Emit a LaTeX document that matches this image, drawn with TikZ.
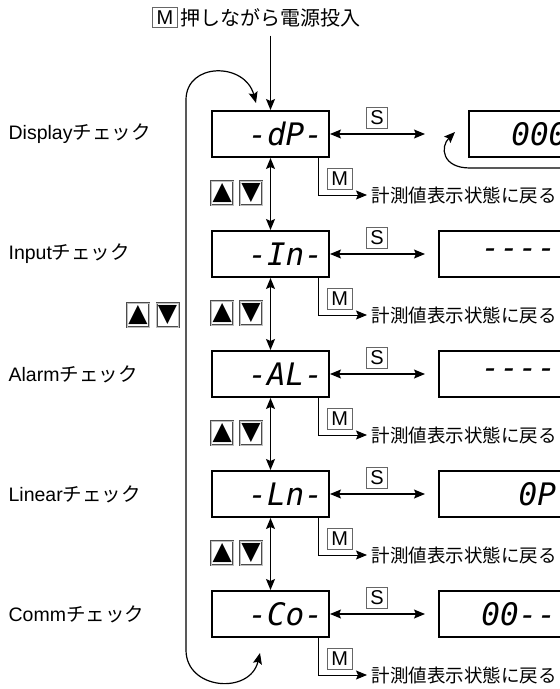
\documentclass[tikz,border=0pt]{standalone}
\usepackage{fontspec}
\setmainfont{Liberation Sans}
\newfontfamily\jp{Noto Sans CJK JP}
\newfontfamily\symf{DejaVu Sans}
\newfontfamily\seg{DejaVu Sans Mono}[Ligatures=TeXOff]
\usetikzlibrary{arrows.meta, positioning}
\tikzset{
  disp_n/.style = {draw, line width=2pt, minimum height=46pt, inner xsep=6pt,
    inner ysep=0pt, align=right, font=\seg\itshape\fontsize{31}{34}\selectfont},
  chk_n/.style = {disp_n, text width=105pt},
  res_n/.style = {disp_n, text width=111pt},
  key_n/.style = {draw=black!60, line width=0.8pt, inner xsep=4pt,
    inner ysep=3.5pt, font=\fontsize{20}{20}\selectfont},
  btn_n/.style = {draw=black!70, double=black!25, double distance=0.6pt,
    line width=0.6pt, minimum width=22pt, minimum height=24pt, inner sep=0pt,
    font=\symf\fontsize{25}{25}\selectfont},
  lbl_n/.style = {anchor=west, inner sep=0pt, font=\fontsize{19.5}{22}\selectfont},
  ret_n/.style = {anchor=west, inner xsep=4pt, font=\jp\fontsize{18.5}{22}\selectfont}}

\begin{document}
\begin{tikzpicture}[x=1pt, y=-1pt, line width=1.2pt,
  >={Stealth[length=11pt, width=9pt, inset=2pt]}]
\useasboundingbox (0,0) rectangle (560,689);
\clip (0,0) rectangle (560,689);

% title
\node[key_n] (k0) at (165,17.5) {M};
\node[anchor=west, inner xsep=2pt, font=\jp\fontsize{20}{22}\selectfont] (t0) at (k0.east) {押しながら電源投入};

% check modes
\node[chk_n] (chk1) at (270.5,134) {-dP-};
\node[chk_n, below=72pt of chk1] (chk2) {-In-};
\node[chk_n, below=72pt of chk2] (chk3) {-AL-};
\node[chk_n, below=72pt of chk3] (chk4) {-Ln-};
\node[chk_n, below=72pt of chk4] (chk5) {-Co-};

% results
\node[res_n, right=138pt of chk1] (res1) {0000};
\node[res_n, right=108pt of chk2] (res2) {----};
\node[res_n, right=108pt of chk3] (res3) {----};
\node[res_n, right=108pt of chk4] (res4) {0P};
\node[res_n, right=108pt of chk5] (res5) {00--};

% names
\coordinate (lx) at (8,0);
\node[lbl_n] (l1) at (lx |- chk1) {Display{\jp チェック}};
\node[lbl_n] (l2) at (lx |- chk2) {Input{\jp チェック}};
\node[lbl_n] (l3) at (lx |- chk3) {Alarm{\jp チェック}};
\node[lbl_n] (l4) at (lx |- chk4) {Linear{\jp チェック}};
\node[lbl_n] (l5) at (lx |- chk5) {Comm{\jp チェック}};

% up/down keys
\node[btn_n] (u0) at (138,315) {▲};
\node[btn_n, right=7pt of u0] (d0) {▼};
\node[btn_n, below right=23pt and 0pt of chk1.south west] (u1) {▲};
\node[btn_n, right=6pt of u1] (d1) {▼};
\node[btn_n, below right=23pt and 0pt of chk2.south west] (u2) {▲};
\node[btn_n, right=6pt of u2] (d2) {▼};
\node[btn_n, below right=23pt and 0pt of chk3.south west] (u3) {▲};
\node[btn_n, right=6pt of u3] (d3) {▼};
\node[btn_n, below right=23pt and 0pt of chk4.south west] (u4) {▲};
\node[btn_n, right=6pt of u4] (d4) {▼};

\draw[->, shorten <=5pt] (t0.south -| chk1.north) -- (chk1.north);
\draw[<->] (chk1) -- (chk2);
\draw[<->] (chk2) -- (chk3);
\draw[<->] (chk3) -- (chk4);
\draw[<->] (chk4) -- (chk5);

% S keys
\draw[<->, shorten >=43pt] (chk1) -- (res1);
\draw[<->, shorten >=13pt] (chk2) -- (res2);
\draw[<->, shorten >=13pt] (chk3) -- (res3);
\draw[<->, shorten >=13pt] (chk4) -- (res4);
\draw[<->, shorten >=13pt] (chk5) -- (res5);
\node[key_n] (s1) at ([xshift=47pt, yshift=16pt]chk1.east) {S};
\node[key_n] (s2) at ([xshift=47pt, yshift=16pt]chk2.east) {S};
\node[key_n] (s3) at ([xshift=47pt, yshift=16pt]chk3.east) {S};
\node[key_n] (s4) at ([xshift=47pt, yshift=16pt]chk4.east) {S};
\node[key_n] (s5) at ([xshift=47pt, yshift=16pt]chk5.east) {S};

% M keys
\node[ret_n] (r1) at ([xshift=37pt, yshift=-37pt]chk1.south east) {計測値表示状態に戻る};
\node[ret_n] (r2) at ([xshift=37pt, yshift=-37pt]chk2.south east) {計測値表示状態に戻る};
\node[ret_n] (r3) at ([xshift=37pt, yshift=-37pt]chk3.south east) {計測値表示状態に戻る};
\node[ret_n] (r4) at ([xshift=37pt, yshift=-37pt]chk4.south east) {計測値表示状態に戻る};
\node[ret_n] (r5) at ([xshift=37pt, yshift=-37pt]chk5.south east) {計測値表示状態に戻る};
\draw[->, line width=0.9pt] ([xshift=-12pt]chk1.south east) |- (r1);
\draw[->, line width=0.9pt] ([xshift=-12pt]chk2.south east) |- (r2);
\draw[->, line width=0.9pt] ([xshift=-12pt]chk3.south east) |- (r3);
\draw[->, line width=0.9pt] ([xshift=-12pt]chk4.south east) |- (r4);
\draw[->, line width=0.9pt] ([xshift=-12pt]chk5.south east) |- (r5);
\node[key_n, anchor=north west] (m1) at ([xshift=-3pt, yshift=-10pt]chk1.south east) {M};
\node[key_n, anchor=north west] (m2) at ([xshift=-3pt, yshift=-10pt]chk2.south east) {M};
\node[key_n, anchor=north west] (m3) at ([xshift=-3pt, yshift=-10pt]chk3.south east) {M};
\node[key_n, anchor=north west] (m4) at ([xshift=-3pt, yshift=-10pt]chk4.south east) {M};
\node[key_n, anchor=north west] (m5) at ([xshift=-3pt, yshift=-10pt]chk5.south east) {M};

% loops
\coordinate (lp1) at (256,103);
\coordinate (lp2) at (260,653);
\draw[<->] (lp1) .. controls (245,62) and (186,62) .. (186,100)
  -- (186,650) .. controls (186,690) and (250,695) .. (lp2);
\draw[->] ([yshift=-10pt]res1.south east) -- ([xshift=2pt, yshift=-10pt]res1.south west)
  .. controls +(-28,0) and +(-15,15) .. ([xshift=-13pt, yshift=2pt]res1.west);
\end{tikzpicture}
\end{document}
